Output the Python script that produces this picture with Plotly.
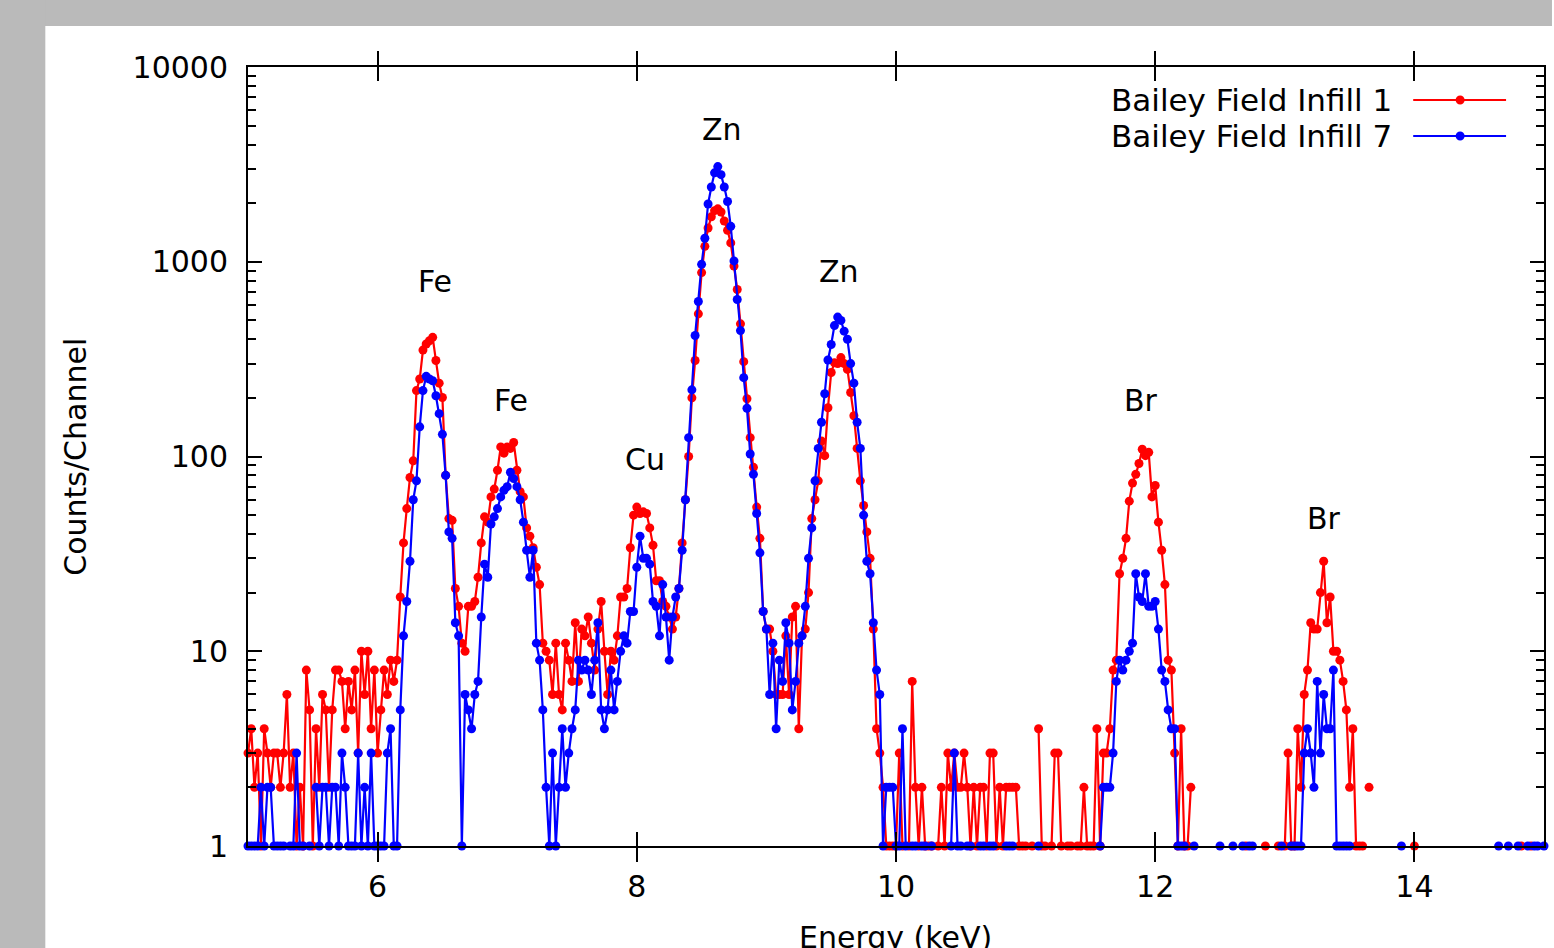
import math
import plotly.graph_objects as go

# Channel calibration of the spectrum (keV)
E_START = 5.0
E_STEP = 0.025
N_CHANNELS = 401
energy_kev = [round(E_START + E_STEP * i, 4) for i in range(N_CHANNELS)]

series_names = ["Bailey Field Infill 1", "Bailey Field Infill 7"]

# Counts per channel (0 = empty channel, not drawn on the log axis)
counts_infill_1 = [
    3, 4, 2, 3, 1, 4, 3, 2, 3, 3,
    2, 3, 6, 2, 3, 1, 2, 1, 8, 5,
    1, 4, 2, 6, 5, 2, 5, 8, 8, 7,
    4, 7, 5, 8, 3, 10, 6, 10, 4, 8,
    3, 5, 8, 6, 9, 7, 9, 19, 36, 54,
    78, 95, 218, 250, 352, 378, 393, 409, 311, 238,
    201, 80, 48, 47, 21, 17, 11, 10, 17, 17,
    18, 24, 36, 49, 46, 62, 68, 85, 112, 104,
    112, 110, 118, 85, 66, 62, 43, 39, 34, 27,
    22, 11, 10, 9, 6, 11, 6, 5, 11, 9,
    7, 14, 7, 13, 12, 15, 11, 8, 13, 18,
    10, 6, 10, 9, 12, 19, 19, 21, 34, 50,
    55, 51, 52, 51, 43, 35, 23, 23, 18, 17,
    15, 13, 15, 21, 36, 60, 100, 200, 311, 540,
    880, 1200, 1490, 1700, 1830, 1870, 1800, 1620, 1450, 1250,
    950, 720, 480, 307, 198, 125, 88, 55, 38, 16,
    13, 13, 10, 6, 6, 6, 12, 6, 15, 17,
    4, 12, 13, 20, 48, 60, 75, 120, 101, 178,
    270, 303, 300, 322, 300, 280, 213, 162, 110, 75,
    56, 41, 30, 13, 4, 3, 2, 1, 1, 1,
    1, 3, 1, 0, 1, 7, 2, 1, 2, 1,
    1, 1, 0, 1, 2, 1, 3, 2, 3, 2,
    2, 3, 2, 1, 2, 1, 2, 2, 1, 3,
    3, 1, 2, 1, 2, 2, 2, 2, 1, 1,
    1, 0, 1, 0, 4, 1, 1, 0, 1, 3,
    3, 1, 0, 1, 1, 0, 1, 1, 2, 1,
    1, 1, 4, 1, 3, 3, 4, 8, 9, 25,
    30, 38, 59, 73, 81, 92, 109, 101, 105, 62,
    71, 46, 33, 22, 9, 8, 3, 1, 4, 1,
    1, 2, 0, 0, 0, 0, 0, 0, 0, 0,
    0, 0, 0, 0, 0, 0, 0, 0, 1, 0,
    0, 0, 0, 0, 1, 0, 0, 0, 1, 0,
    1, 3, 1, 1, 4, 2, 6, 8, 14, 13,
    13, 20, 29, 14, 19, 10, 10, 9, 7, 5,
    2, 4, 1, 1, 1, 0, 2, 0, 0, 0,
    0, 0, 0, 0, 0, 0, 0, 0, 0, 0,
    1, 0, 0, 0, 0, 0, 0, 0, 0, 0,
    0, 0, 0, 0, 0, 0, 0, 0, 0, 0,
    0, 0, 0, 0, 0, 0, 0, 0, 0, 0,
    0, 0, 0, 1, 0, 0, 1, 0, 0, 0,
    0,
]

counts_infill_7 = [
    1, 1, 1, 1, 2, 1, 2, 2, 1, 1,
    1, 1, 0, 1, 1, 3, 1, 1, 0, 1,
    0, 2, 1, 2, 2, 1, 2, 2, 1, 3,
    2, 1, 1, 1, 3, 1, 2, 1, 3, 1,
    1, 1, 1, 3, 4, 1, 1, 5, 12, 18,
    29, 60, 75, 142, 218, 258, 250, 245, 205, 166,
    130, 80, 41, 38, 14, 12, 1, 6, 5, 4,
    6, 7, 15, 28, 24, 45, 49, 54, 62, 67,
    70, 83, 77, 70, 60, 46, 33, 24, 33, 11,
    9, 5, 2, 1, 3, 1, 2, 4, 2, 3,
    4, 5, 9, 8, 9, 8, 6, 9, 14, 5,
    4, 5, 8, 5, 7, 10, 12, 11, 16, 16,
    27, 39, 30, 30, 28, 18, 17, 12, 22, 15,
    9, 15, 19, 21, 33, 60, 125, 220, 418, 625,
    970, 1320, 1980, 2420, 2860, 3080, 2800, 2420, 2040, 1520,
    1010, 640, 443, 254, 177, 103, 81, 51, 32, 16,
    13, 6, 11, 4, 9, 7, 14, 11, 5, 7,
    11, 12, 17, 30, 43, 75, 110, 150, 210, 313,
    376, 470, 520, 500, 440, 400, 300, 238, 150, 110,
    50, 29, 25, 14, 8, 6, 1, 2, 2, 2,
    1, 1, 4, 1, 0, 1, 1, 0, 1, 1,
    0, 1, 0, 0, 0, 0, 0, 1, 3, 1,
    1, 0, 1, 1, 0, 0, 1, 1, 0, 1,
    1, 0, 0, 0, 1, 1, 1, 0, 0, 0,
    0, 0, 0, 0, 1, 0, 0, 0, 0, 0,
    0, 0, 0, 0, 0, 0, 0, 0, 0, 0,
    0, 0, 0, 1, 2, 2, 2, 3, 7, 9,
    8, 9, 10, 11, 25, 19, 18, 25, 17, 17,
    18, 13, 8, 7, 5, 4, 4, 1, 1, 1,
    0, 0, 1, 0, 0, 0, 0, 0, 0, 0,
    1, 0, 0, 0, 1, 0, 0, 1, 0, 1,
    1, 0, 0, 0, 0, 0, 0, 0, 0, 1,
    0, 0, 1, 1, 1, 1, 3, 4, 3, 2,
    7, 3, 6, 4, 4, 8, 1, 1, 1, 1,
    1, 0, 0, 0, 0, 0, 0, 0, 0, 0,
    0, 0, 0, 0, 0, 0, 1, 0, 0, 0,
    0, 0, 0, 0, 0, 0, 0, 0, 0, 0,
    0, 0, 0, 0, 0, 0, 0, 0, 0, 0,
    0, 0, 0, 0, 0, 0, 1, 0, 0, 1,
    0, 0, 1, 0, 0, 1, 0, 1, 1, 0,
    1,
]

# Peak labels: element, energy (keV), label height (counts)
peak_labels = ["Fe", "Fe", "Cu", "Zn", "Zn", "Br", "Br"]
peak_label_energy = [6.44, 7.03, 8.06, 8.66, 9.56, 11.89, 13.30]
peak_label_counts = [790, 194, 97, 4800, 890, 194, 48]

x_ticks = [6, 8, 10, 12, 14]
y_ticks = [1, 10, 100, 1000, 10000]
y_tick_text = ["1", "10", "100", "1000", "10000"]
y_minor_ticks = [m * 10 ** d for d in range(4) for m in range(2, 10)]

colors = ["#ff0000", "#0000ff"]
FONT = "DejaVu Sans"
FS = 30

fig = go.Figure()
for name, counts, col in zip(series_names, [counts_infill_1, counts_infill_7], colors):
    fig.add_trace(go.Scatter(
        x=energy_kev,
        y=[c if c > 0 else None for c in counts],
        mode="lines+markers",
        name=name,
        line=dict(color=col, width=2.2),
        marker=dict(color=col, size=9),
        connectgaps=False,
        cliponaxis=False,
        showlegend=False,
    ))

# empty trace so the minor-tick overlay axis is drawn
fig.add_trace(go.Scatter(x=[None], y=[None], yaxis="y2", showlegend=False, hoverinfo="skip"))

annotations = []
for lab, ex, cy in zip(peak_labels, peak_label_energy, peak_label_counts):
    annotations.append(dict(x=ex, y=math.log10(cy), xref="x", yref="y",
                            text=lab, showarrow=False,
                            font=dict(family=FONT, size=FS, color="black"),
                            xanchor="center", yanchor="middle"))

# axis titles
annotations.append(dict(x=-0.1333, y=0.5, xref="paper", yref="paper", text="Counts/Channel",
                        textangle=-90, showarrow=False, xanchor="center", yanchor="middle",
                        font=dict(family=FONT, size=FS, color="black")))
annotations.append(dict(x=0.4995, y=-0.118, xref="paper", yref="paper", text="Energy (keV)",
                        showarrow=False, xanchor="center", yanchor="middle",
                        font=dict(family=FONT, size=FS, color="black")))

# gnuplot-style key: text on the left, sample on the right
PW, PH = 1298.0, 779.0
shapes = []
key_rows_y = [(846 - 100) / PH, (846 - 136) / PH]
x_line0, x_line1, x_mark = (1415 - 248) / PW, (1508 - 248) / PW, (1462 - 248) / PW
x_text = (1396 - 248) / PW
for name, col, ky in zip(series_names, colors, key_rows_y):
    annotations.append(dict(x=x_text, y=ky, xref="paper", yref="paper", text=name,
                            showarrow=False, xanchor="right", yanchor="middle",
                            font=dict(family=FONT, size=31, color="black")))
    shapes.append(dict(type="line", xref="paper", yref="paper", x0=x_line0, x1=x_line1,
                       y0=ky, y1=ky, line=dict(color=col, width=2.2)))
    shapes.append(dict(type="circle", xref="paper", yref="paper",
                       x0=x_mark - 4.5 / PW, x1=x_mark + 4.5 / PW,
                       y0=ky - 4.5 / PH, y1=ky + 4.5 / PH,
                       fillcolor=col, line=dict(color=col, width=0)))

# grey screenshot border (top and left strips)
shapes.append(dict(type="rect", xref="paper", yref="paper", x0=-248 / PW, x1=(1554 - 248) / PW,
                   y0=(846 - 26) / PH, y1=(846 + 2) / PH + 0.2, fillcolor="#bababa",
                   line=dict(width=0), layer="below"))
shapes.append(dict(type="rect", xref="paper", yref="paper", x0=-248 / PW - 0.01, x1=(45 - 248) / PW,
                   y0=-0.2, y1=1.2, fillcolor="#bababa", line=dict(width=0), layer="below"))

fig.update_layout(
    width=1554, height=948,
    margin=dict(l=248, r=8, t=67, b=102),
    paper_bgcolor="white", plot_bgcolor="white",
    font=dict(family=FONT, size=FS, color="black"),
    annotations=annotations,
    shapes=shapes,
    showlegend=False,
    xaxis=dict(range=[5, 15], tickvals=x_ticks, ticks="inside", ticklen=14, tickwidth=2,
               tickcolor="black", showline=True, linecolor="black", linewidth=2,
               mirror="allticks", showgrid=False, zeroline=False,
               tickfont=dict(family=FONT, size=FS, color="black"), ticklabelstandoff=13),
    yaxis=dict(type="log", range=[0, 4], tickvals=y_ticks, ticktext=y_tick_text,
               ticks="inside", ticklen=14, tickwidth=2, tickcolor="black",
               showline=True, linecolor="black", linewidth=2, mirror="allticks",
               showgrid=False, zeroline=False,
               tickfont=dict(family=FONT, size=FS, color="black"), ticklabelstandoff=12),
    yaxis2=dict(type="log", range=[0, 4], overlaying="y", side="left",
                tickvals=y_minor_ticks, ticktext=[""] * len(y_minor_ticks),
                ticks="inside", ticklen=8, tickwidth=2, tickcolor="black",
                showline=False, mirror="allticks", showgrid=False, zeroline=False),
)

fig.write_html("out.html", config={"displayModeBar": False},
               post_script="document.body.style.margin='0';document.body.style.overflow='hidden';")
